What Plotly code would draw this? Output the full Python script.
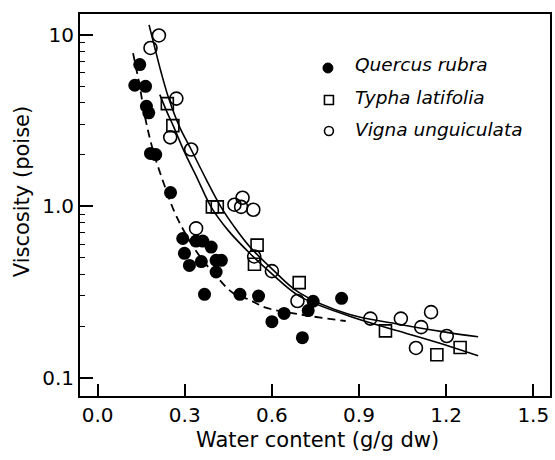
import plotly.graph_objects as go

# ---- data ----
quercus_x = [0.128, 0.145, 0.165, 0.168, 0.176, 0.182, 0.200, 0.251, 0.293, 0.299, 0.316, 0.339, 0.362,
             0.391, 0.357, 0.408, 0.426, 0.408, 0.368, 0.490, 0.554, 0.600, 0.642, 0.705, 0.725, 0.742, 0.840]
quercus_y = [5.07, 6.69, 5.00, 3.82, 3.50, 2.03, 2.00, 1.20, 0.648, 0.531, 0.451, 0.626, 0.626,
             0.577, 0.475, 0.483, 0.483, 0.413, 0.306, 0.306, 0.299, 0.212, 0.237, 0.171, 0.246, 0.279, 0.290]

typha_x = [0.240, 0.259, 0.395, 0.412, 0.549, 0.540, 0.694, 0.991, 1.168, 1.248]
typha_y = [3.96, 2.95, 0.99, 0.99, 0.593, 0.458, 0.358, 0.1875, 0.136, 0.150]

vigna_x = [0.211, 0.182, 0.271, 0.250, 0.322, 0.339, 0.471, 0.499, 0.494, 0.536, 0.539, 0.600,
           0.688, 0.939, 1.044, 1.148, 1.114, 1.202, 1.096]
vigna_y = [9.9, 8.37, 4.24, 2.52, 2.14, 0.742, 1.02, 1.12, 0.99, 0.953, 0.509, 0.418,
           0.280, 0.221, 0.221, 0.241, 0.197, 0.175, 0.149]

# fitted curves
quercus_fit_x = [0.122, 0.145, 0.165, 0.193, 0.231, 0.271, 0.339, 0.408, 0.465, 0.522, 0.579, 0.694, 0.854]
quercus_fit_y = [7.8, 5.0, 3.2, 2.05, 1.31, 0.875, 0.547, 0.391, 0.313, 0.285, 0.256, 0.234, 0.214]

typha_fit_x = [0.214, 0.24, 0.26, 0.30, 0.345, 0.391, 0.45, 0.522, 0.602, 0.694, 0.865, 1.036, 1.208, 1.31]
typha_fit_y = [4.47, 3.5, 2.95, 2.05, 1.43, 0.987, 0.72, 0.535, 0.40, 0.299, 0.229, 0.187, 0.153, 0.134]

vigna_fit_x = [0.177, 0.196, 0.219, 0.245, 0.282, 0.322, 0.374, 0.425, 0.47, 0.522, 0.602, 0.694,
               0.865, 1.036, 1.208, 1.31]
vigna_fit_y = [11.4, 8.5, 6.0, 4.24, 2.9, 2.14, 1.43, 0.987, 0.76, 0.585, 0.428, 0.313,
               0.234, 0.205, 0.183, 0.173]

x_ticks = [0.0, 0.3, 0.6, 0.9, 1.2, 1.5]
x_ticktext = ["0.0", "0.3", "0.6", "0.9", "1.2", "1.5"]
y_ticks = [0.1, 1, 10]
y_ticktext = ["0.1", "1.0", "10"]
y_minor = [0.2, 0.3, 0.4, 0.5, 0.6, 0.7, 0.8, 0.9, 2, 3, 4, 5, 6, 7, 8, 9]

series_names = ["Quercus rubra", "Typha latifolia", "Vigna unguiculata"]

FONT = "DejaVu Sans"

fig = go.Figure()

# curves
fig.add_trace(go.Scatter(x=quercus_fit_x, y=quercus_fit_y, mode="lines", line_shape="spline",
                         line=dict(color="black", width=1.8, dash="8px,5px"), showlegend=False,
                         hoverinfo="skip"))
fig.add_trace(go.Scatter(x=typha_fit_x, y=typha_fit_y, mode="lines", line_shape="spline",
                         line=dict(color="black", width=1.6), showlegend=False, hoverinfo="skip"))
fig.add_trace(go.Scatter(x=vigna_fit_x, y=vigna_fit_y, mode="lines", line_shape="spline",
                         line=dict(color="black", width=1.6), showlegend=False, hoverinfo="skip"))

# points
fig.add_trace(go.Scatter(x=quercus_x, y=quercus_y, mode="markers", name=series_names[0],
                         marker=dict(symbol="circle", size=13, color="black"), showlegend=False))
fig.add_trace(go.Scatter(x=typha_x, y=typha_y, mode="markers", name=series_names[1],
                         marker=dict(symbol="square-open", size=12, color="black",
                                     line=dict(width=1.6, color="black")), showlegend=False))
fig.add_trace(go.Scatter(x=vigna_x, y=vigna_y, mode="markers", name=series_names[2],
                         marker=dict(symbol="circle-open", size=13, color="black",
                                     line=dict(width=1.6, color="black")), showlegend=False))

# manual legend (layout)
W_PLOT = 472.0
H_PLOT = 382.0
def px(xp):
    return (xp - 80) / W_PLOT
def py(yp):
    return 1 - (yp - 14) / H_PLOT

legend_rows = [68, 100, 131]
shapes = []
r = 5
shapes.append(dict(type="circle", xref="paper", yref="paper",
                   x0=px(329 - r), x1=px(329 + r), y0=py(legend_rows[0] + r), y1=py(legend_rows[0] - r),
                   fillcolor="black", line=dict(color="black", width=1)))
r2 = 4.5
shapes.append(dict(type="rect", xref="paper", yref="paper",
                   x0=px(330 - r2), x1=px(330 + r2), y0=py(legend_rows[1] + r2), y1=py(legend_rows[1] - r2),
                   line=dict(color="black", width=1.6)))
shapes.append(dict(type="circle", xref="paper", yref="paper",
                   x0=px(330 - r2), x1=px(330 + r2), y0=py(legend_rows[2] + r2), y1=py(legend_rows[2] - r2),
                   line=dict(color="black", width=1.6)))

annotations = []
for name, yp in zip(series_names, [65, 97, 129]):
    annotations.append(dict(text=name, xref="paper", yref="paper", x=px(354), y=py(yp),
                            xanchor="left", yanchor="middle", showarrow=False,
                            font=dict(family=FONT, size=18.5, color="black", style="italic")))

annotations.append(dict(text="Water content (g/g dw)", xref="paper", yref="paper",
                        x=px(318.5), y=py(440), xanchor="center", yanchor="middle", showarrow=False,
                        font=dict(family=FONT, size=21, color="black")))
annotations.append(dict(text="Viscosity (poise)", xref="paper", yref="paper",
                        x=px(22), y=py(192), xanchor="center", yanchor="middle", showarrow=False,
                        textangle=-90, font=dict(family=FONT, size=21, color="black")))

fig.update_layout(
    width=555, height=460,
    margin=dict(l=80, r=3, t=14, b=64),
    paper_bgcolor="white", plot_bgcolor="white",
    shapes=shapes, annotations=annotations,
    font=dict(family=FONT, size=20, color="black"),
    showlegend=False,
)

fig.update_xaxes(range=[-0.0607, 1.5575], tickmode="array", tickvals=x_ticks, ticktext=x_ticktext,
                 ticks="inside", ticklen=12, tickwidth=1.6, tickcolor="black",
                 showline=True, linecolor="black", linewidth=2, mirror=True,
                 showgrid=False, zeroline=False,
                 tickfont=dict(family=FONT, size=20, color="black"))
fig.update_yaxes(type="log", range=[-1.107, 1.1206], tickmode="array", tickvals=y_ticks,
                 ticktext=y_ticktext, ticks="inside", ticklen=13, tickwidth=1.6, tickcolor="black",
                 minor=dict(tickmode="array", tickvals=y_minor, ticks="inside", ticklen=5,
                            tickwidth=1.4, tickcolor="black", showgrid=False),
                 showline=True, linecolor="black", linewidth=2, mirror=True,
                 showgrid=False, zeroline=False,
                 tickfont=dict(family=FONT, size=20, color="black"))

fig.write_html("out.html")
